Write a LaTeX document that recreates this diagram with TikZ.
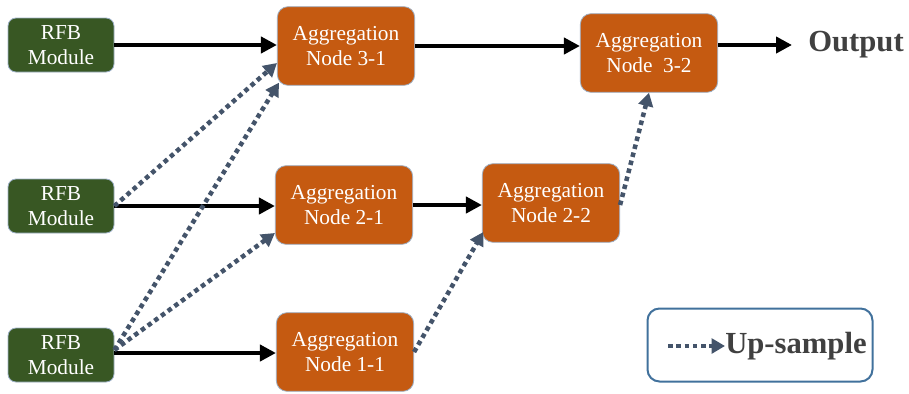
\documentclass[tikz,border=0pt]{standalone}
\usepackage{fontspec}
\setmainfont{Liberation Serif}
\usetikzlibrary{arrows.meta}
\definecolor{rfbgreen}{HTML}{385723}
\definecolor{aggorange}{HTML}{C55A11}
\definecolor{boxedge}{HTML}{9DB0C6}
\definecolor{upblue}{HTML}{44546A}
\definecolor{legendedge}{HTML}{41719C}
\definecolor{darktext}{HTML}{404040}

\begin{document}
\begin{tikzpicture}[x=0.75pt, y=-0.75pt,
    rfb/.style={draw=boxedge, line width=0.6pt, fill=rfbgreen, rounded corners=6pt,
        minimum width=79.5pt, minimum height=40.5pt, text=white, align=center,
        inner sep=0pt, font=\fontsize{16}{18.8}\selectfont},
    agg/.style={draw=boxedge, line width=0.6pt, fill=aggorange, rounded corners=8pt,
        minimum width=103pt, minimum height=59pt, text=white, align=center,
        inner sep=0pt, font=\fontsize{16}{18.8}\selectfont},
    flow/.style={black, line width=3.2pt, -{Triangle[length=12pt, width=12pt]}},
    upsample/.style={upblue, line width=3.4pt, dash pattern=on 3.4pt off 2.8pt,
        -{Triangle[length=10pt, width=11pt]}},
    bigtext/.style={text=darktext, font=\fontsize{23}{27}\selectfont\bfseries, inner sep=0pt}]
    \useasboundingbox (0,0) rectangle (909,393);

    % RFB modules
    \node[rfb] (rfb1) at (61,45) {RFB\\Module};
    \node[rfb] (rfb2) at (61,206) {RFB\\Module};
    \node[rfb] (rfb3) at (61,355) {RFB\\Module};

    % Aggregation nodes
    \node[agg] (agg31) at (346,46) {Aggregation\\Node 3-1};
    \node[agg] (agg21) at (344,205) {Aggregation\\Node 2-1};
    \node[agg] (agg11) at (345,352) {Aggregation\\Node 1-1};
    \node[agg] (agg22) at (551,203) {Aggregation\\Node 2-2};
    \node[agg] (agg32) at (649,53) {Aggregation\\Node\ \ 3-2};

    % Output
    \node[bigtext, anchor=west] (output) at (808,45) {Output};

    % Solid connections
    \draw[flow] (rfb1.east) -- (rfb1.east -| agg31.west);
    \draw[flow] (rfb2.east) -- (rfb2.east -| agg21.west);
    \draw[flow] ([yshift=1.5pt]rfb3.east) -- ([yshift=1.5pt]rfb3.east -| agg11.west);
    \draw[flow] (agg31.east) -- (agg31.east -| agg32.west);
    \draw[flow] (agg21.east) -- (agg21.east -| agg22.west);
    \draw[flow, shorten >=12pt] ([yshift=6pt]agg32.east) -- (output.west);

    % Up-sample connections
    \draw[upsample] (rfb2.east) -- ([yshift=-12.75pt]agg31.west);
    \draw[upsample] ([yshift=3.75pt]rfb3.east) -- ([xshift=1.5pt, yshift=-27.5pt]agg31.west);
    \draw[upsample] ([yshift=3.75pt]rfb3.east) -- ([yshift=-21pt]agg21.west);
    \draw[upsample] (agg11.east) -- ([xshift=1pt, yshift=-21.75pt]agg22.west);
    \draw[upsample] ([yshift=-1.5pt]agg22.east) -- (agg32.south);

    % Legend
    \node[draw=legendedge, line width=1.5pt, rounded corners=9pt,
        minimum width=168.75pt, minimum height=54.75pt] (legend) at (760,345) {};
    \coordinate (legstart) at (668,346);
    \node[bigtext, anchor=west] (uplabel) at (725,346) {Up-sample};
    \draw[upsample] (legstart) -- (uplabel.west);
\end{tikzpicture}
\end{document}
